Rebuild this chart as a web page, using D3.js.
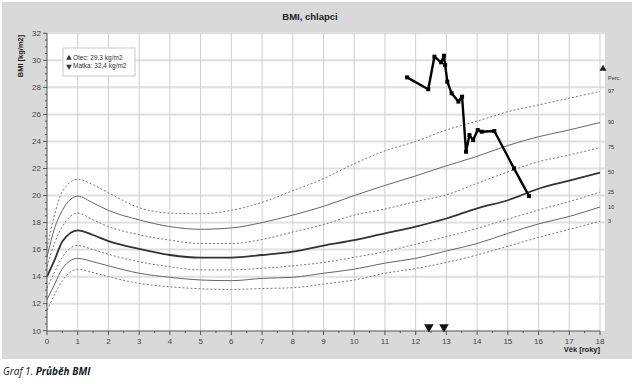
<!DOCTYPE html>
<html>
<head>
<meta charset="utf-8">
<script src="https://cdn.jsdelivr.net/npm/d3@7"></script>
<style>
  body { margin: 0; background: #fff; }
  svg { display: block; font-family: "Liberation Sans", Arial, sans-serif; }
</style>
</head>
<body>
<svg id="chart" width="634" height="384"></svg>
<script>
// ages for the percentile curves
const ages = [0, 0.25, 0.5, 1, 1.5, 2, 3, 4, 5, 6, 7, 8, 9, 10, 11, 12, 13, 14, 15, 16, 17, 18];
// percentile curves (BMI)
const p97 = [16.1, 18.6, 20.3, 21.2, 20.8, 20.2, 19.1, 18.7, 18.65, 18.9, 19.5, 20.35, 21.25, 22.35, 23.3, 24.0, 24.85, 25.5, 26.2, 26.7, 27.2, 27.7];
const p90 = [15.45, 17.6, 18.9, 19.95, 19.45, 18.9, 18.2, 17.7, 17.5, 17.6, 18.0, 18.55, 19.2, 20.0, 20.75, 21.45, 22.2, 22.9, 23.7, 24.35, 24.85, 25.4];
const p75 = [14.75, 16.5, 17.7, 18.7, 18.2, 17.7, 17.1, 16.7, 16.45, 16.45, 16.75, 17.3, 17.85, 18.55, 19.0, 19.55, 20.05, 20.9, 21.75, 22.5, 23.0, 23.55];
const p50 = [14.0, 15.25, 16.6, 17.42, 17.08, 16.63, 16.05, 15.6, 15.4, 15.4, 15.6, 15.85, 16.3, 16.7, 17.2, 17.7, 18.3, 19.05, 19.65, 20.5, 21.1, 21.7];
const p25 = [13.15, 14.35, 15.45, 16.3, 16.0, 15.65, 15.1, 14.73, 14.5, 14.5, 14.62, 14.8, 15.05, 15.43, 15.85, 16.4, 16.95, 17.57, 18.25, 18.93, 19.55, 20.25];
const p10 = [12.3, 13.45, 14.6, 15.35, 15.1, 14.8, 14.25, 13.95, 13.75, 13.7, 13.87, 13.95, 14.25, 14.55, 15.0, 15.35, 15.9, 16.45, 17.2, 17.9, 18.45, 19.15];
const p3 = [11.5, 12.7, 13.7, 14.55, 14.3, 14.0, 13.5, 13.25, 13.1, 13.05, 13.12, 13.18, 13.45, 13.75, 14.25, 14.6, 15.05, 15.6, 16.25, 16.9, 17.5, 18.1];

const percLabels = ["97", "90", "75", "50", "25", "10", "3"];
const percSeries = [p97, p90, p75, p50, p25, p10, p3];
const percStyle = ["dot", "thin", "dot", "thick", "dot", "thin", "dot"];

// measured BMI of the boy
const boyAge = [11.72, 12.41, 12.61, 12.83, 12.92, 12.96, 13.03, 13.17, 13.39, 13.51, 13.64, 13.75, 13.87, 14.02, 14.15, 14.56, 15.2, 15.69];
const boyBmi = [28.74, 27.86, 30.27, 29.85, 30.34, 29.65, 28.42, 27.56, 26.95, 27.31, 23.24, 24.47, 24.1, 24.84, 24.72, 24.77, 22.01, 19.96];

// parents
const legendLines = ["Otec: 29,3  kg/m2", "Matka: 32,4  kg/m2"];
const fatherBmi = 29.3;
const downMarkAges = [12.43, 12.92];

const xTicks = d3.range(0, 19, 1);
const yTicks = d3.range(10, 33, 2);

const svg = d3.select("#chart");

// gray panel
svg.append("rect").attr("x", 2).attr("y", 2).attr("width", 630).attr("height", 357).attr("fill", "#d9d9d9");

const x = d3.scaleLinear().domain([0, 18]).range([47, 600]);
const y = d3.scaleLinear().domain([10, 32]).range([330.7, 33.3]);

// plot area
svg.append("rect").attr("x", 47).attr("y", 33).attr("width", 558).attr("height", 298).attr("fill", "#fff");

// grid
svg.append("g").selectAll("line").data(yTicks.slice(1)).join("line")
  .attr("x1", 47).attr("x2", 605)
  .attr("y1", d => y(d)).attr("y2", d => y(d))
  .attr("stroke", "#e0e0e0").attr("stroke-width", 2);
svg.append("g").selectAll("line").data(xTicks.slice(1)).join("line")
  .attr("x1", d => x(d)).attr("x2", d => x(d))
  .attr("y1", 33).attr("y2", 331)
  .attr("stroke", "#cfcfcf").attr("stroke-width", 1);

// percentile curves
const line = d3.line().curve(d3.curveMonotoneX)
  .x((d, i) => x(ages[i])).y(d => y(d));
percSeries.forEach((s, k) => {
  const st = percStyle[k];
  svg.append("path").datum(s).attr("d", line)
    .attr("fill", "none")
    .attr("stroke", st === "thick" ? "#333" : (st === "thin" ? "#666" : "#777"))
    .attr("stroke-width", st === "thick" ? 1.8 : 1)
    .attr("stroke-dasharray", st === "dot" ? "2,2" : null);
});

// right side percentile labels
svg.append("text").attr("x", 608).attr("y", 80).attr("font-size", 5.5).attr("fill", "#333").text("Perc.");
svg.append("g").selectAll("text").data(percSeries).join("text")
  .attr("x", 608).attr("y", d => y(d[d.length - 1]))
  .attr("dy", "0.35em").attr("font-size", 5.5).attr("fill", "#333")
  .text((d, i) => percLabels[i]);

// axes
const yAxis = svg.append("g").attr("transform", "translate(47,0)");
yAxis.append("line").attr("y1", 33).attr("y2", 331).attr("stroke", "#555");
yAxis.selectAll(".minor").data(d3.range(10, 32.01, 0.5)).join("line")
  .attr("x1", d => d % 2 === 0 ? -4 : -2).attr("x2", 0)
  .attr("y1", d => y(d)).attr("y2", d => y(d)).attr("stroke", "#555");
yAxis.selectAll("text").data(yTicks).join("text")
  .attr("x", -6).attr("y", d => y(d)).attr("dy", "0.35em")
  .attr("text-anchor", "end").attr("font-size", 8).attr("fill", "#444")
  .text(d => d);

const xAxis = svg.append("g").attr("transform", "translate(0,331)");
xAxis.append("line").attr("x1", 47).attr("x2", 600).attr("stroke", "#555");
xAxis.selectAll(".minor").data(d3.range(0, 18.01, 0.5)).join("line")
  .attr("x1", d => x(d)).attr("x2", d => x(d))
  .attr("y1", 0).attr("y2", d => d % 1 === 0 ? 4 : 2).attr("stroke", "#555");
xAxis.selectAll("text").data(xTicks).join("text")
  .attr("x", d => x(d)).attr("y", 13)
  .attr("text-anchor", "middle").attr("font-size", 8).attr("fill", "#444")
  .text(d => d);

// axis titles
svg.append("text").attr("x", 600).attr("y", 352).attr("text-anchor", "end")
  .attr("font-size", 7.5).attr("font-weight", "bold").attr("fill", "#222").text("Věk [roky]");
svg.append("text").attr("transform", "translate(23,56) rotate(-90)").attr("text-anchor", "middle")
  .attr("font-size", 7.5).attr("font-weight", "bold").attr("fill", "#222").text("BMI [kg/m2]");
svg.append("text").attr("x", 310).attr("y", 20).attr("text-anchor", "middle")
  .attr("font-size", 9.5).attr("font-weight", "bold").attr("fill", "#222").text("BMI, chlapci");

// boy's BMI
const boyLine = d3.line().x(d => x(d[0])).y(d => y(d[1]));
const boyPts = boyAge.map((a, i) => [a, boyBmi[i]]);
svg.append("path").datum(boyPts).attr("d", boyLine)
  .attr("fill", "none").attr("stroke", "#000").attr("stroke-width", 2.4).attr("stroke-linejoin", "round");
svg.append("g").selectAll("rect").data(boyPts).join("rect")
  .attr("x", d => x(d[0]) - 2).attr("y", d => y(d[1]) - 2)
  .attr("width", 4).attr("height", 4).attr("fill", "#000");

// markers
const tri = d3.symbol().type(d3.symbolTriangle);
svg.append("path").attr("d", tri.size(22)())
  .attr("transform", `translate(${x(18) + 3},${y(fatherBmi) - 1})`).attr("fill", "#222");
svg.append("g").selectAll("path").data(downMarkAges).join("path")
  .attr("d", tri.size(40)())
  .attr("transform", d => `translate(${x(d)},${327}) rotate(180)`).attr("fill", "#111");

// legend box
const lg = svg.append("g").attr("transform", "translate(63,48)");
lg.append("rect").attr("width", 72).attr("height", 28).attr("fill", "#fff").attr("stroke", "#c8c8c8");
lg.append("path").attr("d", tri.size(14)()).attr("transform", "translate(6,10)").attr("fill", "#333");
lg.append("path").attr("d", tri.size(14)()).attr("transform", "translate(6,18.5) rotate(180)").attr("fill", "#333");
lg.selectAll("text").data(legendLines).join("text")
  .attr("x", 10).attr("y", (d, i) => 10 + i * 8).attr("dy", "0.35em")
  .attr("font-size", 6.5).attr("fill", "#333").text(d => d);

// caption
const cap = svg.append("text").attr("x", 3).attr("y", 375).attr("font-size", 10)
  .attr("font-family", "'Open Sans', sans-serif").attr("font-style", "italic").attr("fill", "#1a1a2a");
cap.append("tspan").text("Graf 1. ");
cap.append("tspan").attr("font-weight", "bold").text("Průběh BMI");
</script>
</body>
</html>
